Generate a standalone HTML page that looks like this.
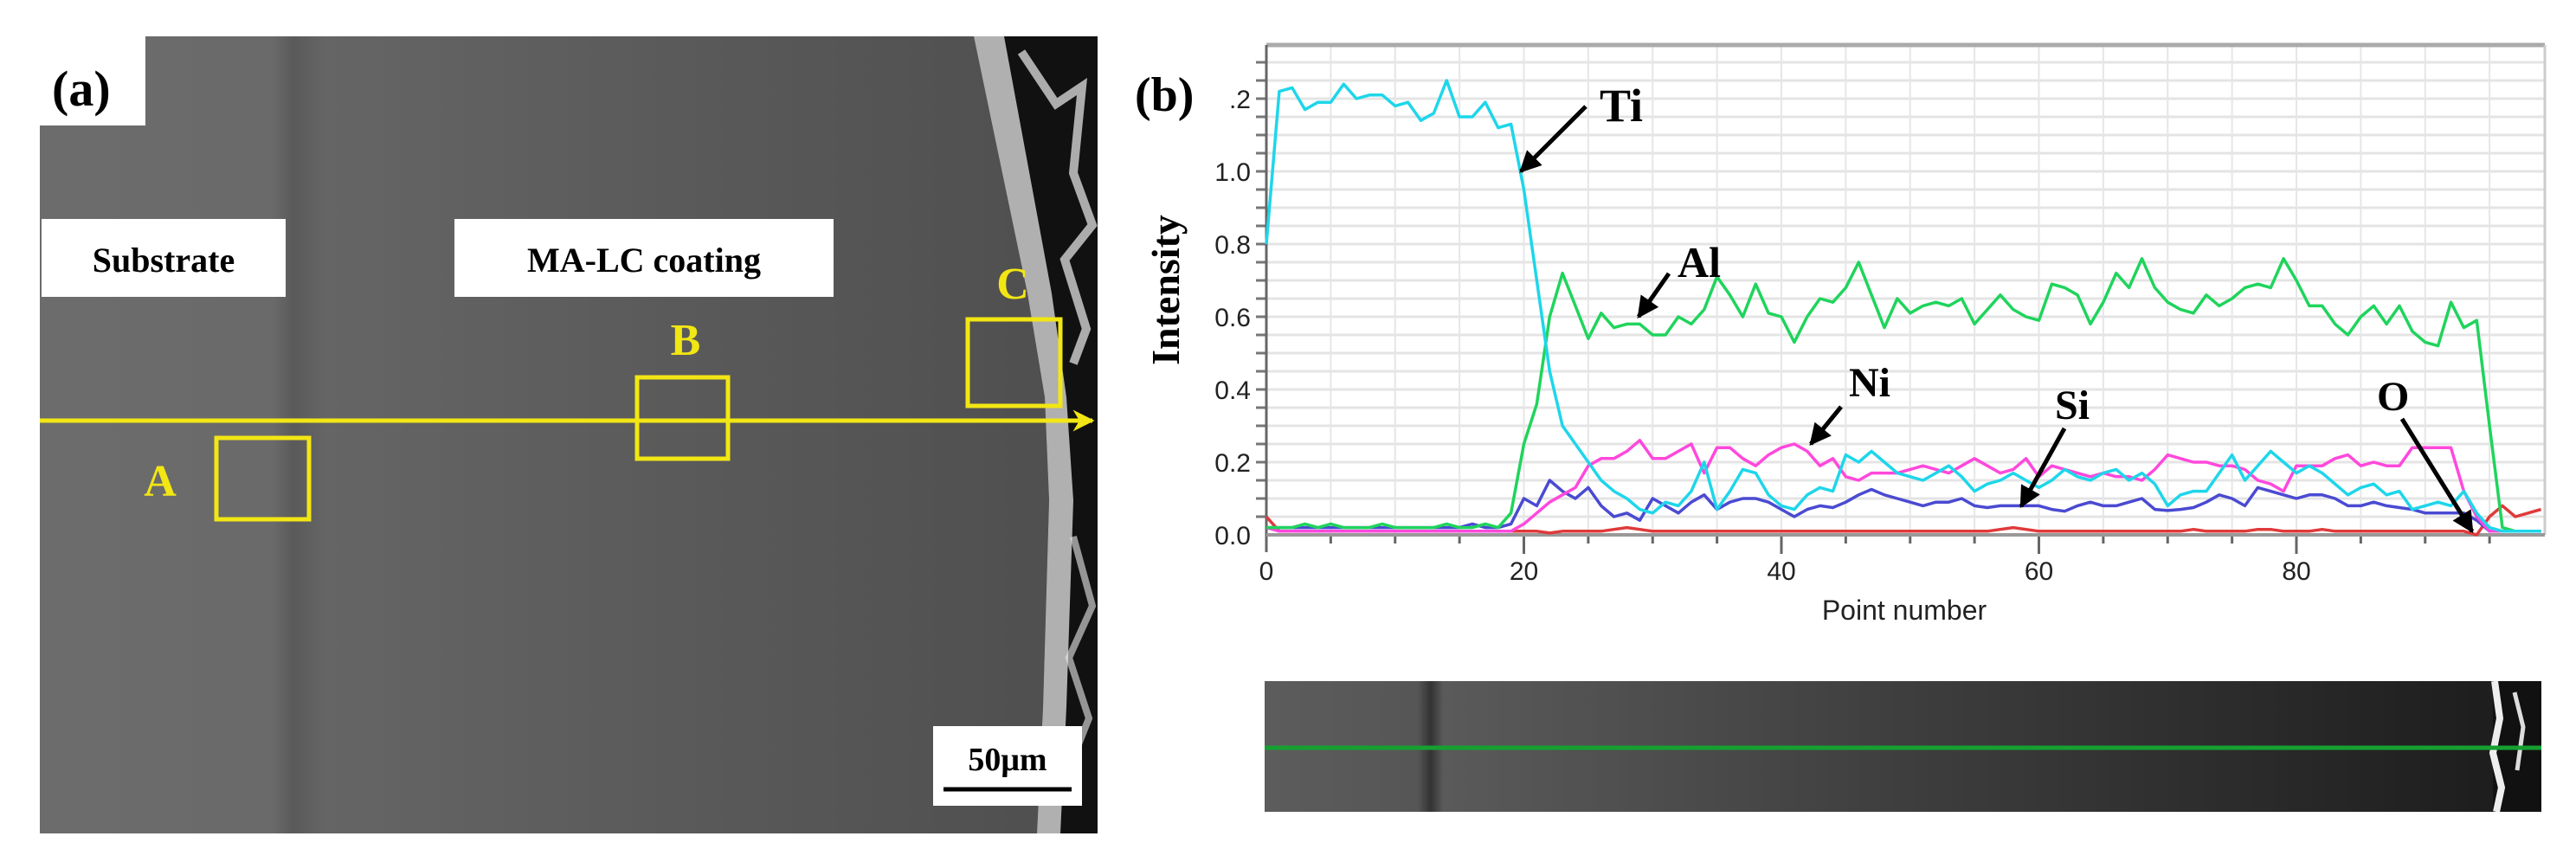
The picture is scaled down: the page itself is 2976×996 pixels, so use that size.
<!DOCTYPE html>
<html><head><meta charset="utf-8"><style>
html,body{margin:0;padding:0;background:#fff;}
svg{display:block;}
.serif{font-family:"Liberation Serif",serif;font-weight:bold;}
.sans{font-family:"Liberation Sans",sans-serif;}
</style></head><body>
<svg id="fig" width="2976" height="996" viewBox="0 0 2976 996" xmlns="http://www.w3.org/2000/svg">
<defs>
<linearGradient id="semGrad" x1="0" x2="1" y1="0" y2="0">
<stop offset="0" stop-color="#6c6c6c"/><stop offset="0.22" stop-color="#6a6a6a"/>
<stop offset="0.24" stop-color="#5a5a5a"/><stop offset="0.27" stop-color="#656565"/>
<stop offset="0.6" stop-color="#5a5a5a"/><stop offset="1" stop-color="#4e4e4e"/>
</linearGradient>
<linearGradient id="stripGrad" x1="0" x2="1" y1="0" y2="0">
<stop offset="0" stop-color="#5c5c5c"/><stop offset="0.12" stop-color="#565656"/>
<stop offset="0.13" stop-color="#333"/><stop offset="0.14" stop-color="#5a5a5a"/>
<stop offset="0.5" stop-color="#3e3e3e"/><stop offset="0.98" stop-color="#1c1c1c"/>
</linearGradient>
<marker id="ah" viewBox="0 0 10 10" refX="9" refY="5" markerWidth="5" markerHeight="5" orient="auto"><path d="M0,0 L10,5 L0,10 z" fill="#000"/></marker>
<marker id="ahy" viewBox="0 0 10 10" refX="9" refY="5" markerWidth="5" markerHeight="5" orient="auto"><path d="M0,0 L10,5 L0,10 L3,5 z" fill="#f2e614"/></marker>
</defs>

<g>
<rect x="46" y="42" width="1222" height="921" fill="url(#semGrad)"/>
<path d="M1125,42 L1187,339 L1207,459 L1212,578 L1205,817 L1198,963 L1268,963 L1268,42 Z" fill="#111"/>
<path d="M1125,42 L1187,339 L1207,459 L1212,578 L1205,817 L1198,963 L1225,963 L1232,817 L1240,578 L1232,459 L1215,339 L1160,42 Z" fill="#d8d8d8" opacity="0.8"/>
<path d="M1180,60 L1220,120 L1250,100 L1240,200 L1262,260 L1230,300 L1255,380 L1240,420" stroke="#eee" stroke-width="10" fill="none" opacity="0.7"/>
<path d="M1240,620 L1262,700 L1235,760 L1258,830 L1230,900" stroke="#eee" stroke-width="8" fill="none" opacity="0.6"/>
<rect x="46" y="42" width="122" height="103" fill="#fff"/>
<text x="60" y="122" class="serif" font-size="58">(a)</text>
<rect x="48" y="253" width="282" height="90" fill="#fff"/>
<text x="189" y="314" class="serif" font-size="40" text-anchor="middle">Substrate</text>
<rect x="525" y="253" width="438" height="90" fill="#fff"/>
<text x="744" y="314" class="serif" font-size="40" text-anchor="middle">MA-LC coating</text>
<line x1="46" y1="486" x2="1262" y2="486" stroke="#f2e614" stroke-width="5" marker-end="url(#ahy)"/>
<rect x="250" y="506" width="107" height="94" fill="none" stroke="#f2e614" stroke-width="5"/>
<rect x="736" y="436" width="105" height="94" fill="none" stroke="#f2e614" stroke-width="5"/>
<rect x="1118" y="369" width="107" height="100" fill="none" stroke="#f2e614" stroke-width="5"/>
<text x="185" y="573" class="serif" font-size="52" fill="#f2e614" text-anchor="middle">A</text>
<text x="792" y="410" class="serif" font-size="52" fill="#f2e614" text-anchor="middle">B</text>
<text x="1170" y="345" class="serif" font-size="52" fill="#f2e614" text-anchor="middle">C</text>
<rect x="1078" y="839" width="172" height="92" fill="#fff"/>
<text x="1164" y="890" class="serif" font-size="38" text-anchor="middle">50μm</text>
<line x1="1090" y1="912" x2="1238" y2="912" stroke="#000" stroke-width="5"/>
</g>

<g id="chart"></g>
<text x="1311" y="128" class="serif" font-size="56">(b)</text>
<text transform="translate(1362,335) rotate(-90)" class="serif" font-size="46" text-anchor="middle">Intensity</text>
<text x="2200" y="716" class="sans" font-size="32" text-anchor="middle" fill="#222">Point number</text>

<g>
<text x="1848" y="140" class="serif" font-size="54">Ti</text>
<line x1="1832" y1="123" x2="1757" y2="198" stroke="#000" stroke-width="5" marker-end="url(#ah)"/>
<text x="1938" y="320" class="serif" font-size="50">Al</text>
<line x1="1928" y1="316" x2="1893" y2="366" stroke="#000" stroke-width="5" marker-end="url(#ah)"/>
<text x="2136" y="458" class="serif" font-size="48">Ni</text>
<line x1="2127" y1="470" x2="2092" y2="513" stroke="#000" stroke-width="5" marker-end="url(#ah)"/>
<text x="2374" y="484" class="serif" font-size="48">Si</text>
<line x1="2385" y1="495" x2="2335" y2="585" stroke="#000" stroke-width="5" marker-end="url(#ah)"/>
<text x="2746" y="474" class="serif" font-size="48">O</text>
<line x1="2775" y1="484" x2="2856" y2="614" stroke="#000" stroke-width="5" marker-end="url(#ah)"/>
</g>

<g>
<rect x="1461" y="787" width="1475" height="151" fill="url(#stripGrad)"/>
<rect x="2880" y="787" width="56" height="151" fill="#111"/>
<path d="M2882,787 L2888,830 L2880,870 L2890,910 L2884,938" stroke="#eee" stroke-width="8" fill="none"/>
<path d="M2905,800 L2915,840 L2908,890" stroke="#ddd" stroke-width="5" fill="none"/>
<line x1="1461" y1="864" x2="2936" y2="864" stroke="#15a030" stroke-width="5"/>
</g>
</svg>
<script>
const pointIdx = Array.from({length:100},(_,i)=>i);
const yTicks = [0.0,0.2,0.4,0.6,0.8,1.0,1.2];
const yTickLabels = ["0.0","0.2","0.4","0.6","0.8","1.0",".2"];
const xTicks = [0,20,40,60,80];
const xTickLabels = ["0","20","40","60","80"];
const tiValues = [0.80,1.22,1.23,1.17,1.19,1.19,1.24,1.20,1.21,1.21,1.18,1.19,1.14,1.16,1.25,1.15,1.15,1.19,1.12,1.13,0.95,0.70,0.45,0.30,0.25,0.20,0.15,0.12,0.10,0.07,0.06,0.09,0.08,0.12,0.20,0.07,0.12,0.18,0.17,0.11,0.08,0.07,0.11,0.13,0.12,0.22,0.20,0.23,0.20,0.17,0.16,0.15,0.17,0.19,0.16,0.12,0.14,0.15,0.17,0.15,0.13,0.15,0.18,0.16,0.15,0.17,0.18,0.15,0.17,0.14,0.08,0.11,0.12,0.12,0.17,0.22,0.15,0.19,0.23,0.20,0.17,0.19,0.17,0.14,0.11,0.13,0.14,0.11,0.12,0.07,0.08,0.09,0.08,0.12,0.06,0.02,0.01,0.01,0.01,0.01];
const alValues = [0.02,0.02,0.02,0.03,0.02,0.03,0.02,0.02,0.02,0.03,0.02,0.02,0.02,0.02,0.03,0.02,0.02,0.03,0.02,0.06,0.25,0.36,0.60,0.72,0.63,0.54,0.61,0.57,0.58,0.58,0.55,0.55,0.60,0.58,0.62,0.71,0.66,0.60,0.69,0.61,0.60,0.53,0.60,0.65,0.64,0.68,0.75,0.66,0.57,0.65,0.61,0.63,0.64,0.63,0.65,0.58,0.62,0.66,0.62,0.60,0.59,0.69,0.68,0.66,0.58,0.64,0.72,0.68,0.76,0.68,0.64,0.62,0.61,0.66,0.63,0.65,0.68,0.69,0.68,0.76,0.70,0.63,0.63,0.58,0.55,0.60,0.63,0.58,0.63,0.56,0.53,0.52,0.64,0.57,0.59,0.30,0.02,0.01,0.01,0.01];
const niValues = [0.02,0.01,0.01,0.01,0.01,0.01,0.01,0.01,0.01,0.01,0.01,0.01,0.01,0.01,0.01,0.01,0.01,0.01,0.01,0.01,0.03,0.06,0.09,0.11,0.13,0.19,0.21,0.21,0.23,0.26,0.21,0.21,0.23,0.25,0.17,0.24,0.24,0.21,0.19,0.22,0.24,0.25,0.23,0.19,0.21,0.16,0.15,0.17,0.17,0.17,0.18,0.19,0.18,0.17,0.19,0.21,0.19,0.17,0.18,0.21,0.16,0.19,0.18,0.17,0.16,0.17,0.16,0.16,0.15,0.18,0.22,0.21,0.20,0.20,0.19,0.19,0.18,0.15,0.14,0.12,0.19,0.19,0.19,0.21,0.22,0.19,0.20,0.19,0.19,0.24,0.24,0.24,0.24,0.12,0.05,0.01,0.01,0.01,0.01,0.01];
const siValues = [0.02,0.02,0.02,0.02,0.02,0.02,0.02,0.02,0.02,0.02,0.02,0.02,0.02,0.02,0.02,0.02,0.03,0.02,0.02,0.03,0.10,0.08,0.15,0.12,0.10,0.13,0.08,0.05,0.06,0.04,0.10,0.08,0.06,0.09,0.11,0.07,0.09,0.10,0.10,0.09,0.07,0.05,0.07,0.08,0.075,0.09,0.11,0.125,0.11,0.10,0.09,0.08,0.09,0.09,0.10,0.08,0.075,0.08,0.08,0.08,0.08,0.07,0.065,0.08,0.09,0.08,0.08,0.09,0.10,0.07,0.067,0.07,0.075,0.09,0.11,0.10,0.08,0.13,0.12,0.11,0.10,0.11,0.11,0.10,0.08,0.08,0.09,0.08,0.075,0.07,0.06,0.06,0.06,0.06,0.04,0.01,0.01,0.01,0.01,0.01];
const oValues = [0.05,0.01,0.01,0.01,0.01,0.01,0.01,0.01,0.01,0.01,0.01,0.01,0.01,0.01,0.01,0.01,0.01,0.01,0.01,0.01,0.01,0.01,0.005,0.01,0.01,0.01,0.01,0.015,0.02,0.015,0.01,0.01,0.01,0.01,0.01,0.01,0.01,0.01,0.01,0.01,0.01,0.01,0.01,0.01,0.01,0.01,0.01,0.01,0.01,0.01,0.01,0.01,0.01,0.01,0.01,0.01,0.01,0.015,0.02,0.015,0.01,0.01,0.01,0.01,0.01,0.01,0.01,0.01,0.01,0.01,0.01,0.01,0.015,0.01,0.01,0.01,0.01,0.015,0.015,0.01,0.01,0.01,0.015,0.01,0.01,0.01,0.01,0.01,0.01,0.01,0.01,0.01,0.01,0.01,0.0,0.05,0.08,0.05,0.06,0.07];

const NS="http://www.w3.org/2000/svg";
const X0=1463, X1=2940, Y0=618, YT=52;
function xs(v){return X0+v*(297.5/20);}
function ys(v){return Y0-v*420;}
const chartG=document.getElementById('chart');
function mk(tag,attrs){const e=document.createElementNS(NS,tag);for(const k in attrs)e.setAttribute(k,attrs[k]);chartG.appendChild(e);return e;}
const plotBg=mk('rect',{x:X0,y:YT,width:X1-X0,height:Y0-YT,fill:'#fff'});


for(let k=1;k<=27;k++){const v=k*0.05;if(ys(v)<YT)break;
 const l=mk('line',{x1:X0,x2:X1,y1:ys(v),y2:ys(v),stroke:'#e4e4e4','stroke-width':3});
 
 
 const t=mk('line',{x1:X0-12,x2:X0,y1:ys(v),y2:ys(v),stroke:'#777','stroke-width':3});
 
 }
for(let p=5;xs(p)<X1;p+=5){
 const l=mk('line',{x1:xs(p),x2:xs(p),y1:YT,y2:Y0,stroke:'#e6e6e6','stroke-width':2});
 
 
 const t=mk('line',{x1:xs(p),x2:xs(p),y1:Y0,y2:Y0+(p%20===0?22:10),stroke:'#666','stroke-width':3});
 
 }
const topBorder=mk('line',{x1:X0,x2:X1,y1:YT,y2:YT,stroke:'#aaa','stroke-width':5});


const rightBorder=mk('line',{x1:X1,x2:X1,y1:YT,y2:Y0,stroke:'#ccc','stroke-width':3});


const yAxisLine=mk('line',{x1:X0,x2:X0,y1:YT,y2:Y0+20,stroke:'#666','stroke-width':3});


const xAxisLine=mk('line',{x1:X0,x2:X1,y1:Y0,y2:Y0,stroke:'#999','stroke-width':4});


yTicks.forEach((v,i)=>{const t=mk('text',{x:X0-18,y:ys(v)+11,'text-anchor':'end','font-size':30,'font-family':'Liberation Sans, sans-serif',fill:'#222'});t.textContent=yTickLabels[i];
 
 });
xTicks.forEach((v,i)=>{const t=mk('text',{x:xs(v),y:670,'text-anchor':'middle','font-size':30,'font-family':'Liberation Sans, sans-serif',fill:'#222'});t.textContent=xTickLabels[i];
 
 });
function series(vals,color,name){
 const d=vals.map((v,i)=>(i?'L':'M')+xs(pointIdx[i]).toFixed(1)+','+ys(v).toFixed(1)).join(' ');
 const p=mk('path',{d:d,fill:'none',stroke:color,'stroke-width':3.5,'stroke-linejoin':'round'});
 
 
}
series(oValues,'#e03a3a','o-series');
series(siValues,'#4a4ad2','si-series');
series(niValues,'#ff48dc','ni-series');
series(alValues,'#1fd45c','al-series');
series(tiValues,'#1ed6ea','ti-series');
</script>
</body></html>
